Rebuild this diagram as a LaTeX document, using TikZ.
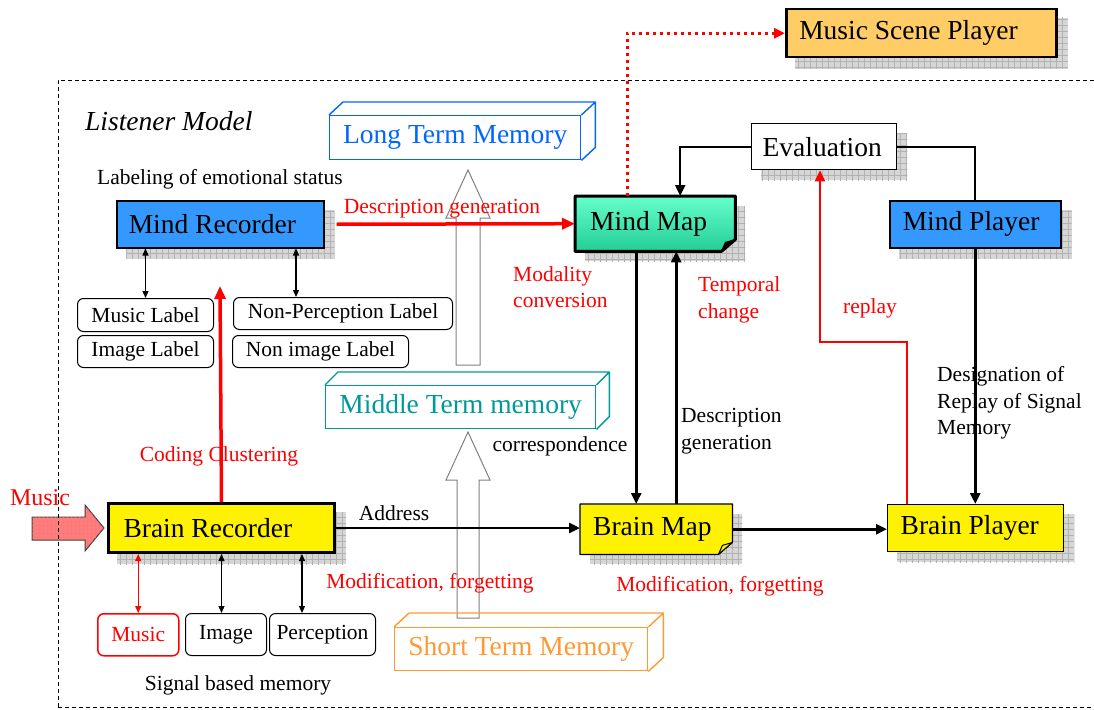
\documentclass[tikz,border=0pt]{standalone}
\usepackage{fontspec}
\setmainfont{Liberation Serif}
\usetikzlibrary{arrows.meta,backgrounds,patterns.meta,calc}

\definecolor{mindblue}{RGB}{51,153,255}
\definecolor{scenefill}{RGB}{255,204,102}
\definecolor{ltmblue}{RGB}{0,102,255}
\definecolor{mtmteal}{RGB}{0,153,153}
\definecolor{stmorange}{RGB}{255,153,51}
\definecolor{mapgreenA}{RGB}{102,255,204}
\definecolor{mapgreenB}{RGB}{35,205,150}
\definecolor{musicpink}{RGB}{255,125,125}

\tikzset{
  bigtxt/.style={font=\fontsize{27.5}{30}\selectfont},
  smalltxt/.style={font=\fontsize{21.5}{26.5}\selectfont},
  note/.style={smalltxt, inner sep=0pt},
  recbox/.style={draw, bigtxt, inner xsep=13pt, inner ysep=0pt, align=flush left, anchor=north west},
  lblbox/.style={draw, line width=1pt, rounded corners=6pt, smalltxt, inner sep=0pt, anchor=north west},
  membox/.style={draw, line width=1.4pt, bigtxt, inner sep=0pt, anchor=north west},
  gridshadow/.style={fill=gray!32, postaction={pattern={Hatch[distance=6pt, angle=0, line width=0.3pt]}, pattern color=gray!60}},
  hollow/.style={draw=gray, line width=1pt, fill=white},
  flow/.style={->, line width=2.8pt},
  dbl/.style={{Triangle[length=7pt,width=6pt]}-{Triangle[length=7pt,width=6pt]}, line width=1.2pt},
  redflow/.style={-{Triangle[length=13pt,width=11pt]}, red, line width=3.5pt},
}

\begin{document}
\begin{tikzpicture}[x=1pt, y=-1pt, >={Triangle[length=11pt,width=10pt]}]
\useasboundingbox (0,0) rectangle (1094,709);

% hollow arrows between the memories
\draw[hollow] (456,365) -- (456,218) -- (446,218) -- (468,170) -- (490,218) -- (480,218) -- (480,365) -- cycle;
\draw[hollow] (457,618) -- (457,480) -- (446,480) -- (468,432) -- (490,480) -- (479,480) -- (479,618) -- cycle;

% main boxes
\node[recbox, fill=scenefill, line width=2.5pt, text width=244pt, minimum height=48pt] (scene) at (785,8) {Music Scene Player};
\node[recbox, fill=mindblue, line width=1.5pt, text width=183pt, minimum height=47pt, inner xsep=12pt] (mrec) at (116,200) {Mind Recorder};
\node[recbox, draw=none, text width=130pt, minimum height=55pt, inner xsep=15pt] (mmap) at (575,196) {Mind Map};
\node[recbox, fill=white, line width=1.3pt, text width=123pt, minimum height=46pt, inner xsep=11pt] (eval) at (751,123) {Evaluation};
\node[recbox, fill=mindblue, line width=1.5pt, text width=145pt, minimum height=47pt] (mplay) at (889,200) {Mind Player};
\node[recbox, fill=yellow, line width=3pt, text width=196pt, minimum height=49pt, inner xsep=15pt] (brec) at (107,502) {Brain Recorder};
\node[recbox, draw=none, text width=126pt, minimum height=50pt] (bmap) at (580,504) {Brain Map};
\node[recbox, fill=yellow, line width=1.3pt, text width=150pt, minimum height=47pt] (bplay) at (887,504) {Brain Player};

% memories
\node[membox, draw=ltmblue, text=ltmblue, minimum width=251pt, minimum height=44pt] (ltm) at (329,115) {Long Term Memory};
\draw[ltmblue, line width=1.4pt, line join=round] (ltm.north west) -- ++(14,-13) -| ($(ltm.south east)+(14,-13)$) -- (ltm.south east) (ltm.north east) -- ++(14,-13);
\node[membox, draw=mtmteal, text=mtmteal, minimum width=270pt, minimum height=43pt] (mtm) at (325,385) {Middle Term memory};
\draw[mtmteal, line width=1.4pt, line join=round] (mtm.north west) -- ++(13,-13) -| ($(mtm.south east)+(13,-13)$) -- (mtm.south east) (mtm.north east) -- ++(13,-13);
\node[membox, draw=stmorange, text=stmorange, minimum width=253pt, minimum height=43pt] (stm) at (394,627) {Short Term Memory};
\draw[stmorange, line width=1.4pt, line join=round] (stm.north west) -- ++(15,-14) -| ($(stm.south east)+(15,-14)$) -- (stm.south east) (stm.north east) -- ++(15,-14);

% label boxes
\node[lblbox, minimum width=136pt, minimum height=33pt] (muslbl) at (77,298) {Music Label};
\node[lblbox, minimum width=136pt, minimum height=32pt] (imglbl) at (77,335) {Image Label};
\node[lblbox, minimum width=219pt, minimum height=32pt] (nplbl) at (233,297) {Non-Perception Label};
\node[lblbox, minimum width=176pt, minimum height=32pt] (nilbl) at (232,335) {Non image Label};
\node[lblbox, draw=red, text=red, line width=1.5pt, minimum width=81pt, minimum height=42pt] (music) at (97,613) {Music};
\node[lblbox, minimum width=81pt, minimum height=42pt] (image) at (185,613) {Image};
\node[lblbox, minimum width=106pt, minimum height=42pt] (percep) at (269,613) {Perception};

% shadows and map shapes
\begin{scope}[on background layer]
  \foreach \n in {scene,mrec,mmap,eval,mplay,brec,bmap,bplay}
    \fill[gridshadow] ($(\n.south west)+(10,10)$) rectangle ($(\n.north east)+(10,10)$);
  \shade[top color=mapgreenA, bottom color=mapgreenB] (mmap.north west) -- (mmap.north east) -- ([yshift=12pt]mmap.south east) -- ([xshift=-14pt]mmap.south east) -- (mmap.south west) -- cycle;
  \draw[line width=3pt, line join=round] (mmap.north west) -- (mmap.north east) -- ([yshift=12pt]mmap.south east) -- ([xshift=-14pt]mmap.south east) -- (mmap.south west) -- cycle;
  \filldraw[line width=1pt, line join=round] ([yshift=12pt]mmap.south east) -- ([xshift=-14pt]mmap.south east) -- ([xshift=-10pt,yshift=9pt]mmap.south east) -- cycle;
  \filldraw[fill=yellow, line width=1.3pt, line join=round] (bmap.north west) -- (bmap.north east) -- ([yshift=12pt]bmap.south east) -- ([xshift=-14pt]bmap.south east) -- (bmap.south west) -- cycle;
  \filldraw[fill=yellow, line width=1pt, line join=round] ([yshift=12pt]bmap.south east) -- ([xshift=-14pt]bmap.south east) -- ([xshift=-10pt,yshift=9pt]bmap.south east) -- cycle;
\end{scope}

% texts
\node[note, anchor=west, font=\fontsize{27.5}{30}\selectfont\itshape] (title) at (85,121) {Listener Model};
\node[note, anchor=west] (labeling) at (97,179) {Labeling of emotional status};
\node[note, red] (descgen) at (442,209) {Description generation};
\node[note, red, align=left, anchor=west] (modal) at (513,287) {Modality\\conversion};
\node[note, red, align=left, anchor=west] (temporal) at (698,300) {Temporal\\change};
\node[note, red] (replay) at (870,308) {replay};
\node[note, align=left, anchor=west] (desig) at (937,403) {Designation of\\Replay of Signal\\Memory};
\node[note, align=left, anchor=west] (descgen2) at (681,431) {Description\\generation};
\node[note] (corresp) at (560,446) {correspondence};
\node[note, red] (coding) at (219,456) {Coding Clustering};
\node[note] (address) at (394,513) {Address};
\node[note, red] (modif1) at (430,583) {Modification, forgetting};
\node[note, red] (modif2) at (720,586) {Modification, forgetting};
\node[note] (signal) at (238,685) {Signal based memory};
\node[note, red, font=\fontsize{24}{28}\selectfont] (musicin) at (40,498) {Music};

% music input
\filldraw[fill=musicpink, draw=black!75, line width=1pt, postaction={pattern={Hatch[distance=4pt, angle=0, line width=0.3pt]}, pattern color=red!55}] (32,517) -- (85,517) -- (85,505) -- (104,528) -- (85,551) -- (85,540) -- (32,540) -- cycle;

% label links
\draw[dbl] (muslbl.north |- mrec.south) -- (muslbl.north);
\draw[dbl] ([xshift=180pt]mrec.south west) -- ([xshift=63pt]nplbl.north west);
\draw[dbl, red, line width=1.5pt] (music.north |- brec.south) -- (music.north);
\draw[dbl] (brec.south) -- (brec.south |- image.north);
\draw[dbl] ([xshift=195pt]brec.south west) -- ([xshift=33pt]percep.north west);

% red flows
\coordinate (ccend) at (220,286);
\draw[redflow] (brec.north) -- (ccend);
\draw[redflow] ([xshift=12pt]mrec.east) -- (mmap.west);
\draw[red, line width=3pt, dash pattern=on 3pt off 4pt, -{Triangle[length=11pt,width=10pt]}] ([xshift=-28pt]mmap.north) |- (scene.west);

% evaluation loop
\draw[line width=2pt, ->] (eval.west) -| ([xshift=25pt]mmap.north);
\draw[line width=2pt] (eval.east) -| (mplay.north);
\draw[flow] (mplay.south) -- (mplay.south |- bplay.north);
\coordinate (rpk) at (820,342);
\draw[red, line width=2pt, ->] ([xshift=20pt]bplay.north west) |- (rpk) -- (rpk |- eval.south);

% maps
\draw[flow] ([xshift=-19pt]mmap.south) -- ([xshift=-20pt]bmap.north);
\draw[flow] ([xshift=20pt]bmap.north) -- ([xshift=21pt]mmap.south);
\draw[flow] (brec.east) -- (brec.east -| bmap.west);
\draw[flow] (bmap.east) -- (bmap.east -| bplay.west);

% listener frame
\draw[line width=1pt, dash pattern=on 4pt off 3pt] (1094,80) -- (58,80) -- (58,709);
\draw[line width=1pt, dash pattern=on 4pt off 3pt] (58,707) -- (1094,707);
\end{tikzpicture}
\end{document}
